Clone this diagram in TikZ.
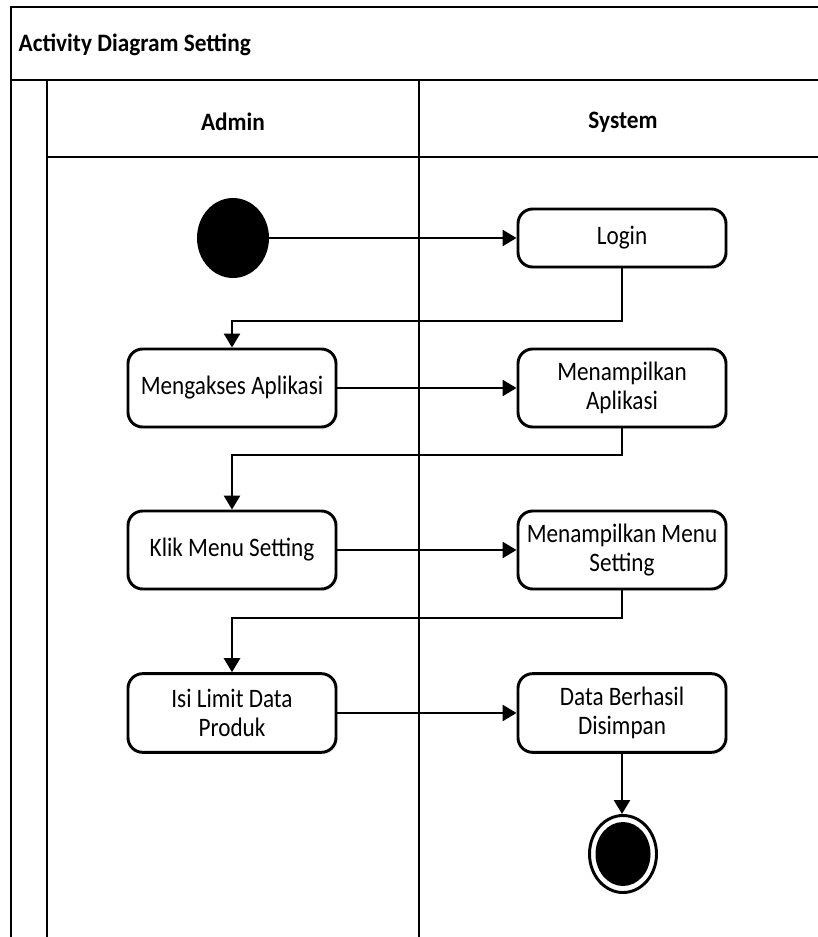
\documentclass[tikz,border=0pt]{standalone}
\usepackage{fontspec}
\setmainfont{Carlito}[FakeStretch=0.87]
\newfontfamily\headfont{Carlito}[FakeStretch=0.93]
\usetikzlibrary{arrows.meta,shadows}
\begin{document}
\begin{tikzpicture}[x=0.75pt,y=-0.75pt,
  frame/.style={line width=2.2pt,line cap=rect},
  action/.style={draw,line width=2.2pt,rounded corners=11pt,fill=white,
    minimum width=156pt,align=center,
    font=\fontsize{20pt}{22pt}\selectfont,
    drop shadow={opacity=0.12,shadow xshift=1.5pt,shadow yshift=-1.5pt}},
  flow/.style={line width=2pt,-{Triangle[length=10.5pt,width=12pt]}},
  lanehead/.style={font=\headfont\bfseries\fontsize{18.8pt}{22pt}\selectfont}]
\useasboundingbox (0,0) rectangle (817,937);
% swimlane frame
\draw[frame] (11,937) -- (11,7) -- (830,7);
\draw[frame] (11,80) -- (830,80);
\draw[frame] (47,80) -- (47,937);
\draw[frame] (419,80) -- (419,937);
\draw[frame] (47,157) -- (830,157);
\node[lanehead,anchor=west] (title) at (14,45) {Activity Diagram Setting};
\node[lanehead] (admin) at (233,122) {Admin};
\node[lanehead] (system) at (623,122) {System};
% initial node
\fill (233,238) ellipse [x radius=36,y radius=40];
\coordinate (starte) at (269,238);
% actions
\node[action,minimum height=43.5pt] (login) at (622,238) {Login};
\node[action,minimum height=58.5pt] (akses) at (232,388) {Mengakses Aplikasi};
\node[action,minimum height=58.5pt] (tampil) at (622,388) {Menampilkan\\Aplikasi};
\node[action,minimum height=58.5pt] (klik) at (232,550) {Klik Menu Setting};
\node[action,minimum height=58.5pt] (tampilmenu) at (622,550) {Menampilkan Menu\\Setting};
\node[action,minimum height=59pt] (isi) at (232,713) {Isi Limit Data\\Produk};
\node[action,minimum height=59pt] (simpan) at (622,713) {Data Berhasil\\Disimpan};
% final node
\draw[line width=2.2pt] (623,854) ellipse [x radius=33.5,y radius=38.5];
\fill (623,854) ellipse [x radius=27.5,y radius=32];
\coordinate (endtop) at (622,814);
% bend points
\coordinate (b1) at (622,321);
\coordinate (b2) at (622,455);
\coordinate (b3) at (622,618);
% flows
\draw[flow] (starte) -- (login.west);
\draw[flow] (login.south) -- (b1) -| (akses.north);
\draw[flow] (akses.east) -- (tampil.west);
\draw[flow] (tampil.south) -- (b2) -| (klik.north);
\draw[flow] (klik.east) -- (tampilmenu.west);
\draw[flow] (tampilmenu.south) -- (b3) -| (isi.north);
\draw[flow] (isi.east) -- (simpan.west);
\draw[flow] (simpan.south) -- (endtop);
\end{tikzpicture}
\end{document}
